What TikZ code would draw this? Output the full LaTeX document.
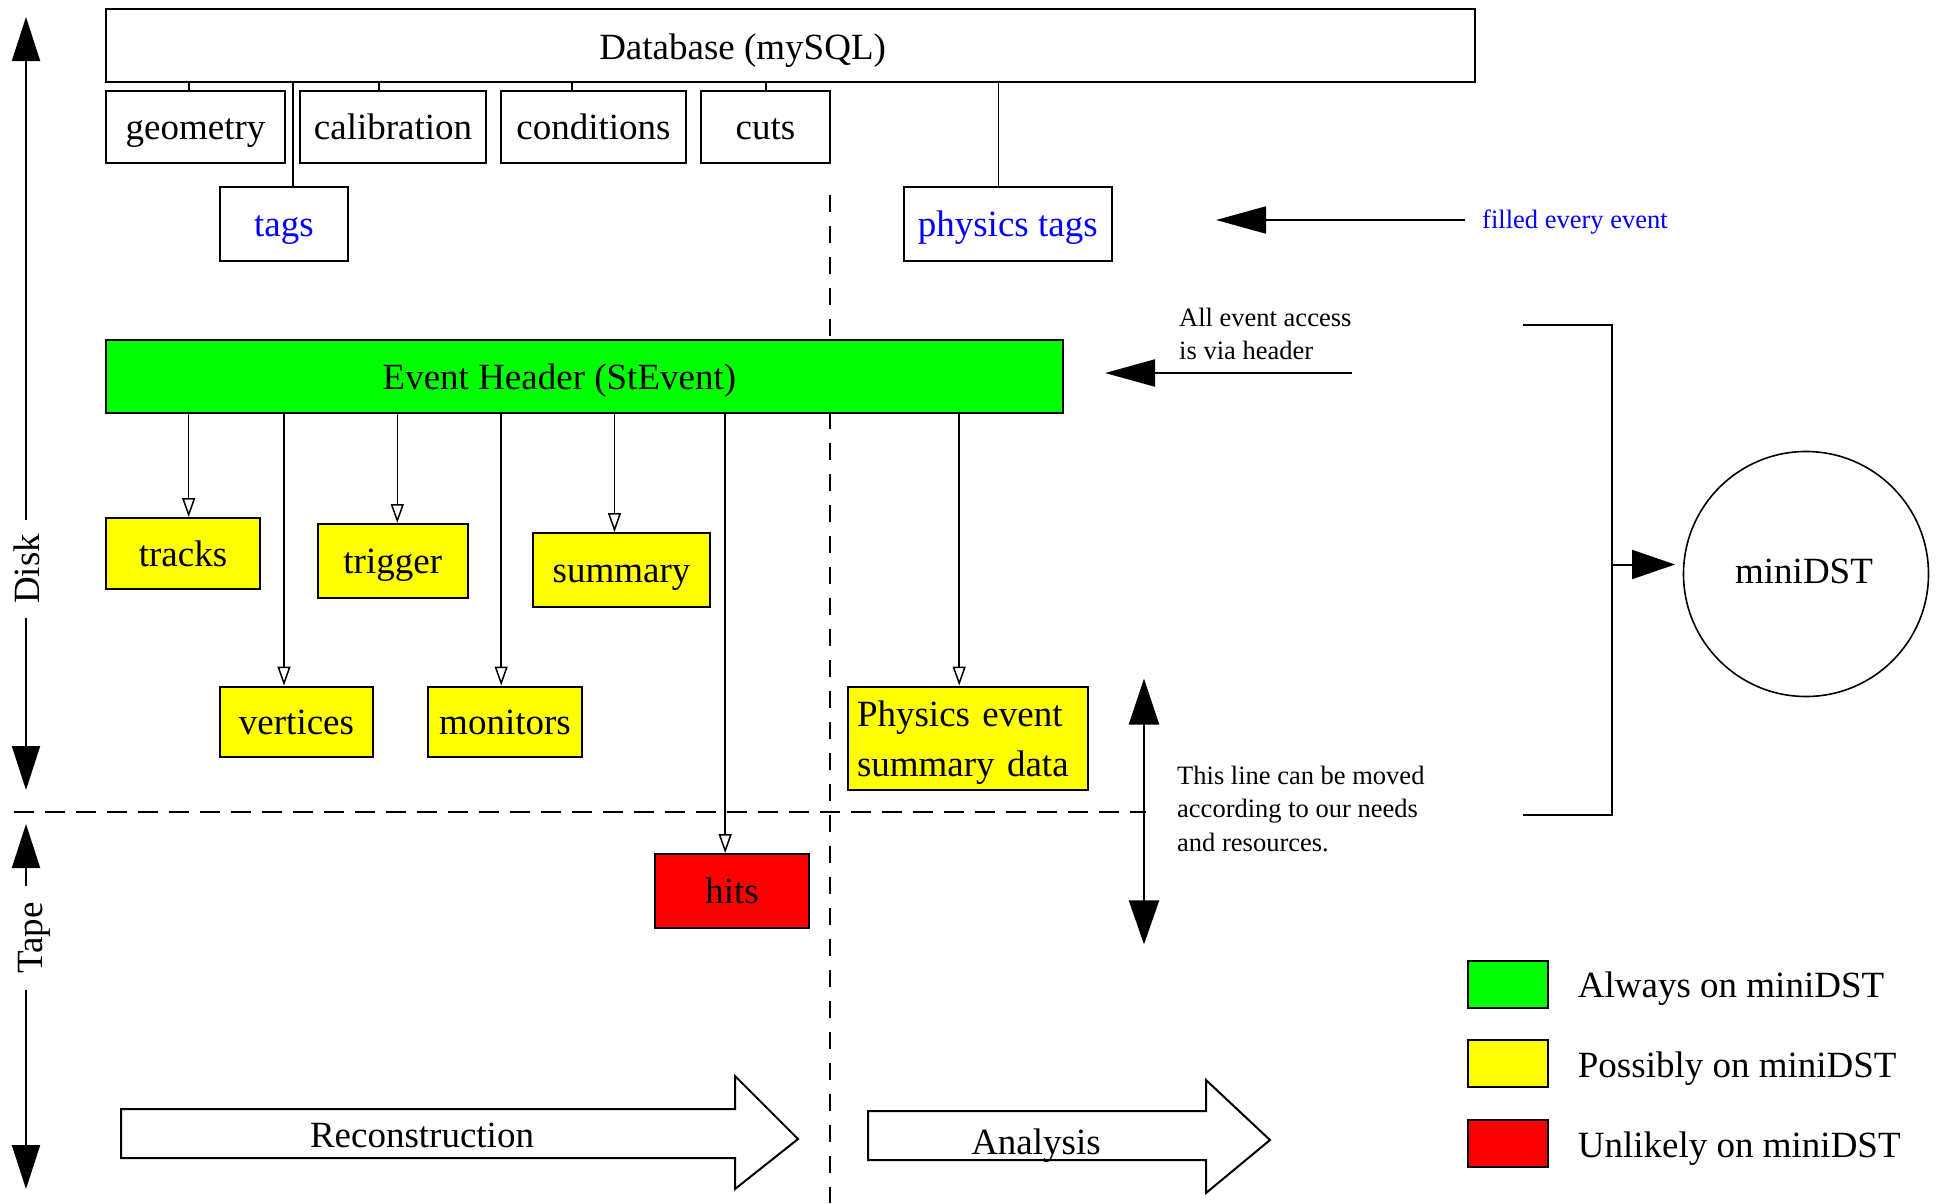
\documentclass[tikz,border=0pt]{standalone}
\usepackage{fontspec}
\setmainfont{Liberation Serif}
\usetikzlibrary{arrows.meta}
\definecolor{evgreen}{RGB}{0,255,0}
\definecolor{evyellow}{RGB}{255,255,0}
\definecolor{evred}{RGB}{255,0,0}
\definecolor{evblue}{RGB}{0,0,255}
\newcommand\fbig{\fontsize{37}{44}\selectfont}
\newcommand\fsmall{\fontsize{26.5}{33.5}\selectfont}
\tikzset{
  txt/.style={font=\fbig, inner sep=0pt, text height=25pt, text depth=0pt},
  box/.style={draw, line width=2pt, txt},
  ybox/.style={box, fill=evyellow},
  conn/.style={line width=1.6pt},
  openarr/.style={line width=1.5pt, -{Triangle[open, length=19pt, width=13pt, line width=1.5pt]}},
  fillarr/.style={line width=2pt, -{Triangle[length=50pt, width=27pt]}},
  fillarrB/.style={line width=2pt, -{Triangle[length=43pt, width=29pt]}},
  axarr/.style={line width=2pt, -{Triangle[length=44pt, width=28pt]}},
  dblarr/.style={line width=2pt, {Triangle[length=46pt, width=30pt]}-{Triangle[length=44pt, width=30pt]}},
  vdash/.style={line width=2pt, dash pattern=on 17pt off 14pt},
  hdash/.style={line width=2pt, dash pattern=on 20pt off 11pt},
  blockarr/.style={draw, line width=2pt, fill=white},
  note/.style={font=\fsmall, inner sep=0pt, anchor=west, align=left},
}
\begin{document}
\begin{tikzpicture}[x=1pt,y=-1pt]
\useasboundingbox (0,0) rectangle (1939,1203);

% helper coordinates
\coordinate (ax) at (26,0);
\coordinate (xg) at (189,0);
\coordinate (xc) at (379,0);
\coordinate (xk) at (572,0);
\coordinate (xu) at (766,0);
\coordinate (xt) at (292.7,0);
\coordinate (xp) at (998.5,0);
\coordinate (xtr) at (188.7,0);
\coordinate (xve) at (284,0);
\coordinate (xtg) at (397.3,0);
\coordinate (xmo) at (501.2,0);
\coordinate (xsu) at (614.5,0);
\coordinate (xhi) at (725.2,0);
\coordinate (xph) at (959.2,0);

% dashed separators
\coordinate (vd1) at (830,195);
\coordinate (vd2) at (830,1203);
\coordinate (hd1) at (13.6,812);
\coordinate (hd2) at (1146,812);
\draw[vdash] (vd1) -- (vd2);
\draw[hdash] (hd1) -- (hd2);

% database
\node[box, minimum width=1369, minimum height=73] (db) at (790.5,45.5) {};
\node[txt] (dbt) at (742.6,47) {Database (mySQL)};
\node[box, minimum width=179, minimum height=72] (geo) at (195.5,127) {geometry};
\node[box, minimum width=186, minimum height=72] (cal) at (393,127) {calibration};
\node[box, minimum width=185, minimum height=72] (cond) at (593.5,127) {conditions};
\node[box, minimum width=129, minimum height=72] (cuts) at (765.5,127) {cuts};
\node[box, minimum width=128, minimum height=74, text=evblue] (tags) at (284,224) {tags};
\node[box, minimum width=208.5, minimum height=74, text=evblue] (ptags) at (1007.75,224) {physics tags};

\draw[conn] (db.south -| xg) -- (geo.north -| xg);
\draw[conn] (db.south -| xc) -- (cal.north -| xc);
\draw[conn] (db.south -| xk) -- (cond.north -| xk);
\draw[conn] (db.south -| xu) -- (cuts.north -| xu);
\draw[conn] (db.south -| xt) -- (tags.north -| xt);
\draw[conn] (db.south -| xp) -- (ptags.north -| xp);

% filled every event
\node[note, text=evblue] (fee) at (1482,222) {filled every event};
\coordinate (fee1) at (1465,220);
\coordinate (fee2) at (1216,220);
\draw[fillarr] (fee1) -- (fee2);

% event header
\node[box, fill=evgreen, minimum width=957, minimum height=73] (ev) at (584.5,376.5) {};
\node[txt] (evt) at (559.4,377) {Event Header (StEvent)};

\node[note, font=\fsmall] (acc) at (1179,334) {All event access\\is via header};
\coordinate (acc1) at (1352,373);
\coordinate (acc2) at (1105,373);
\draw[fillarr] (acc1) -- (acc2);

% data boxes
\node[ybox, minimum width=154, minimum height=71] (tracks) at (183,553.5) {tracks};
\node[ybox, minimum width=150.5, minimum height=74] (trig) at (392.75,561) {trigger};
\node[ybox, minimum width=177, minimum height=74] (summ) at (621.5,570) {summary};
\node[ybox, minimum width=153, minimum height=70.5] (vert) at (296.5,721.75) {vertices};
\node[ybox, minimum width=154, minimum height=70.5] (mon) at (505,721.75) {monitors};
\node[ybox, minimum width=240, minimum height=103.5] (phys) at (968,738.25) {};
\node[font=\fontsize{37}{50}\selectfont, inner sep=0pt, text width=222, align=left] (physt) at (968,742.3) {Physics event\\summary data};
\node[box, fill=evred, minimum width=154, minimum height=74] (hits) at (732,891) {hits};

\draw[openarr] (ev.south -| xtr) -- (tracks.north -| xtr);
\draw[openarr] (ev.south -| xve) -- (vert.north -| xve);
\draw[openarr] (ev.south -| xtg) -- (trig.north -| xtg);
\draw[openarr] (ev.south -| xmo) -- (mon.north -| xmo);
\draw[openarr] (ev.south -| xsu) -- (summ.north -| xsu);
\draw[openarr] (ev.south -| xhi) -- (hits.north -| xhi);
\draw[openarr] (ev.south -| xph) -- (phys.north -| xph);

% miniDST bracket and circle
\node[circle, draw, line width=1.6pt, minimum size=245, inner sep=0pt, font=\fbig] (mini) at (1806,574) {};
\node[txt] (minit) at (1804,571) {miniDST};
\coordinate (br1) at (1523,324.5);
\coordinate (br2) at (1612,324.5);
\coordinate (br3) at (1612,815);
\coordinate (br4) at (1523,815);
\coordinate (brm) at (1612,564.5);
\coordinate (brt) at (1675,564.5);
\draw[line width=2pt] (br1) -- (br2) -- (br3) -- (br4);
\draw[fillarrB] (brm) -- (brt);

% movable line
\coordinate (mv1) at (1144,678.5);
\coordinate (mv2) at (1144,944.4);
\draw[dblarr] (mv1) -- (mv2);
\node[note, font=\fsmall] (mvt) at (1177,808.6) {This line can be moved\\according to our needs\\and resources.};

% Disk / Tape axis
\node[rotate=90, font=\fbig, inner xsep=13.5pt, inner ysep=0pt] (disk) at (27,569) {Disk};
\node[rotate=90, font=\fbig, inner xsep=16pt, inner ysep=0pt] (tape) at (34,938) {Tape};
\coordinate (axt1) at (26,17);
\coordinate (axt2) at (26,790);
\coordinate (axt3) at (26,824);
\coordinate (axt4) at (26,1189);
\draw[axarr] (disk.east -| ax) -- (axt1);
\draw[axarr] (disk.west -| ax) -- (axt2);
\draw[axarr] (tape.east -| ax) -- (axt3);
\draw[axarr] (tape.west -| ax) -- (axt4);

% block arrows
\draw[blockarr] (121,1109) -- (735,1109) -- (735,1076) -- (798,1139) -- (735,1189) -- (735,1158) -- (121,1158) -- cycle;
\node[txt] (rec) at (422,1135) {Reconstruction};
\draw[blockarr] (868,1111) -- (1206,1111) -- (1206,1080) -- (1270,1140) -- (1206,1193) -- (1206,1160) -- (868,1160) -- cycle;
\node[txt] (ana) at (1036,1142) {Analysis};

% legend
\node[box, fill=evgreen, minimum width=80.5, minimum height=47] (lg) at (1507.75,984) {};
\node[box, fill=evyellow, minimum width=80.5, minimum height=47] (ly) at (1507.75,1063.6) {};
\node[box, fill=evred, minimum width=80.5, minimum height=47] (lr) at (1507.75,1143.4) {};
\node[txt, anchor=west] (lgt) at (1577.7,985) {Always on miniDST};
\node[txt, anchor=west] (lyt) at (1577.7,1065) {Possibly on miniDST};
\node[txt, anchor=west] (lrt) at (1577.7,1145) {Unlikely on miniDST};
\end{tikzpicture}
\end{document}
